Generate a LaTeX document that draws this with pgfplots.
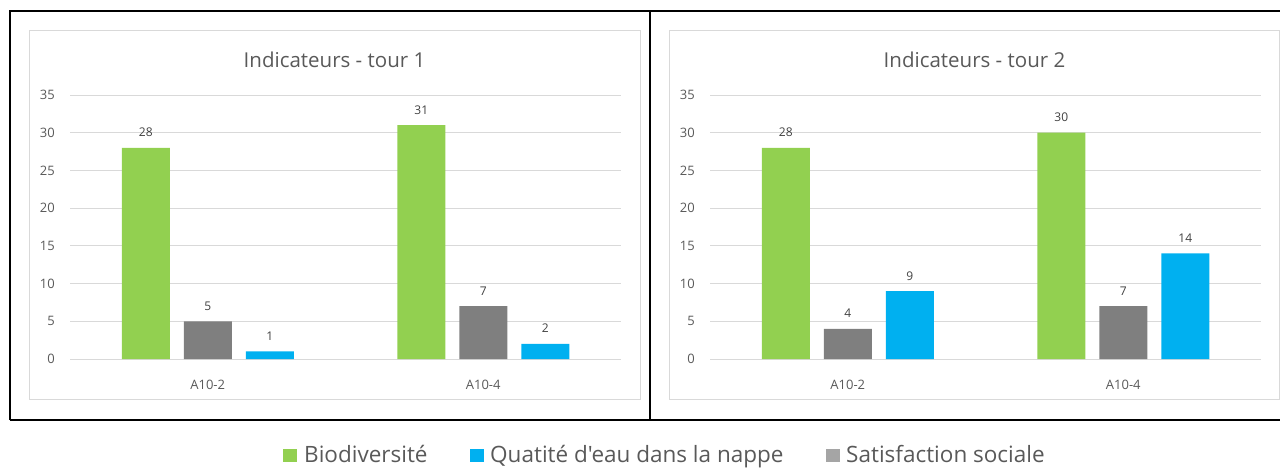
\documentclass[border=0pt]{standalone}
\usepackage{pgfplots}
\pgfplotsset{compat=1.18}
\usepackage{fontspec}
\setmainfont{Open Sans}
\newfontfamily\legfont{Open Sans}
\definecolor{cgreen}{HTML}{92D050}
\definecolor{cblue}{HTML}{00B0F0}
\definecolor{cgray}{HTML}{7F7F7F}
\definecolor{clgray}{HTML}{A5A5A5}
\definecolor{ctext}{HTML}{595959}
\definecolor{clab}{HTML}{404040}
\definecolor{cgrid}{HTML}{D9D9D9}
\pgfplotsset{
  panel/.style={
    scale only axis, width=551pt, height=264pt,
    ymin=0, ymax=35, ytick={0,5,...,35},
    xmin=-0.5, xmax=1.5, xtick={0,1}, xticklabels={A10-2,A10-4},
    axis line style={draw=none}, tick style={draw=none},
    ymajorgrids, major grid style={cgrid, line width=1pt},
    clip=false,
    ticklabel style={font=\fontsize{13}{15}\selectfont, text=ctext},
    /pgf/number format/assume math mode=true,
    yticklabel style={inner sep=0pt, xshift=-15pt},
    xticklabel style={inner sep=0pt, yshift=-17pt},
    ybar, bar width=48pt,
    nodes near coords,
    every node near coord/.append style={font=\fontsize{12}{14}\selectfont, text=clab, anchor=base, inner sep=0pt, yshift=11pt},
  }
}
\begin{document}
\begin{tikzpicture}[x=1pt,y=1pt]
\useasboundingbox (0,0) rectangle (1280,467);
% panels
\draw[cgrid, line width=1pt] (29.5,68) rectangle (640,436);
\draw[cgrid, line width=1pt] (669.5,68) rectangle (1279.5,436);
% outer black frame
\draw[black, line width=2pt] (9.5,47) -- (9.5,455.5) -- (1290,455.5);
\draw[black, line width=2pt] (9.5,47) -- (1290,47);
\draw[black, line width=2pt] (650,47) -- (650,455.5);
% titles
\node[font=\fontsize{20.5}{24}\selectfont, text=ctext, anchor=base] at (334.5,399) {Indicateurs - tour 1};
\node[font=\fontsize{20.5}{24}\selectfont, text=ctext, anchor=base] at (974.5,399) {Indicateurs - tour 2};

\begin{axis}[panel, at={(70pt,108pt)}, anchor=south west]
\addplot[fill=cgreen, draw=none, bar shift=-62pt] coordinates {(0,28) (1,31)};
\addplot[fill=cgray, draw=none, bar shift=0pt] coordinates {(0,5) (1,7)};
\addplot[fill=cblue, draw=none, bar shift=62pt] coordinates {(0,1) (1,2)};
\end{axis}

\begin{axis}[panel, at={(710pt,108pt)}, anchor=south west]
\addplot[fill=cgreen, draw=none, bar shift=-62pt] coordinates {(0,28) (1,30)};
\addplot[fill=cgray, draw=none, bar shift=0pt] coordinates {(0,4) (1,7)};
\addplot[fill=cblue, draw=none, bar shift=62pt] coordinates {(0,9) (1,14)};
\end{axis}

% legend
\begin{scope}[font=\legfont\fontsize{22.5}{26}\selectfont, text=ctext]
\fill[cgreen] (283,5) rectangle (297,18);
\node[anchor=base west, inner sep=0pt] at (304,5) {Biodiversité};
\fill[cblue] (470,5) rectangle (484,18);
\node[anchor=base west, inner sep=0pt] at (490,5) {Quatité d'eau dans la nappe};
\fill[clgray] (826,5) rectangle (840,18);
\node[anchor=base west, inner sep=0pt] at (846,5) {Satisfaction sociale};
\end{scope}
\end{tikzpicture}
\end{document}
